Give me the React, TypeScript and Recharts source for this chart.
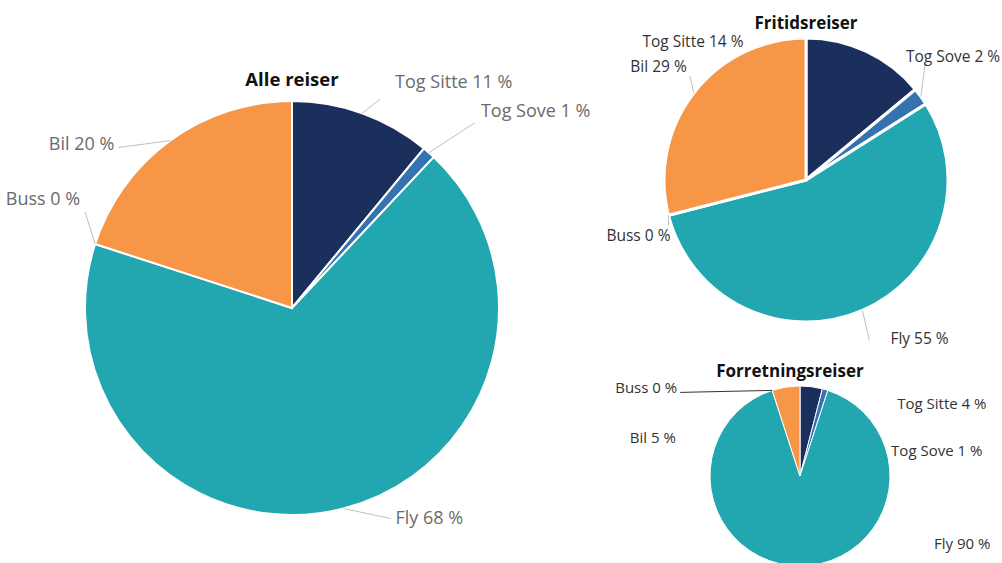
import React from 'react'
import { PieChart, Pie, Cell } from 'recharts'

const CATEGORIES = ['Tog Sitte', 'Tog Sove', 'Fly', 'Buss', 'Bil']
const ALLE_REISER = [11, 1, 68, 0, 20]
const FRITIDSREISER = [14, 2, 55, 0, 29]
const FORRETNINGSREISER = [4, 1, 90, 0, 5]
const COLORS = ['#1b2f5c', '#3473b0', '#22a6b0', '#22a6b0', '#f79646']

const RADIAN = Math.PI / 180
const FONT = '"Open Sans", "Noto Sans", sans-serif'

type Place = { dx: number; dy: number; anchor: 'start' | 'end'; leader?: [number, number] }

// label offsets measured from the slice's outer edge at its mid angle
const alleLabels: Place[] = [
  { dx: 33, dy: -32, anchor: 'start', leader: [18, -14] },
  { dx: 52, dy: -43, anchor: 'start', leader: [46, -30] },
  { dx: 52, dy: 9, anchor: 'start', leader: [47, 10] },
  { dx: -15, dy: -46, anchor: 'end', leader: [-10, -32] },
  { dx: -56, dy: 2, anchor: 'end', leader: [-52, 7] },
]
const fritidLabels: Place[] = [
  { dx: -123, dy: -11, anchor: 'end' },
  { dx: -15, dy: -41, anchor: 'start', leader: [4, -31] },
  { dx: 28, dy: 28, anchor: 'start', leader: [7, 30] },
  { dx: 2, dy: 20, anchor: 'end', leader: [0, 10] },
  { dx: -7, dy: -27, anchor: 'end', leader: [-4, -17] },
]
const forretningLabels: Place[] = [
  { dx: 86, dy: 16, anchor: 'start' },
  { dx: 66, dy: 60, anchor: 'start' },
  { dx: 134, dy: -23, anchor: 'start' },
  { dx: -95, dy: -3, anchor: 'end', leader: [-92, 2] },
  { dx: -110, dy: 50, anchor: 'end' },
]

const toData = (values: number[]) =>
  CATEGORIES.map((name, i) => ({ name, value: values[i] }))

function makeLabel(places: Place[], color: string, lineColor: string, size: number) {
  return (props: any) => {
    const { cx, cy, midAngle, outerRadius, index, name, value } = props
    const p = places[index]
    const ex = cx + outerRadius * Math.cos(-midAngle * RADIAN)
    const ey = cy + outerRadius * Math.sin(-midAngle * RADIAN)
    return (
      <g key={`lbl-${index}`}>
        {p.leader && (
          <line
            x1={ex}
            y1={ey}
            x2={ex + p.leader[0]}
            y2={ey + p.leader[1]}
            stroke={lineColor}
            strokeWidth={1}
          />
        )}
        <text
          x={ex + p.dx}
          y={ey + p.dy}
          textAnchor={p.anchor}
          dominantBaseline="central"
          fill={color}
          fontSize={size}
          fontFamily={FONT}
        >
          {`${name} ${Math.round(value)} %`}
        </text>
      </g>
    )
  }
}

const titleStyle = (left: number, top: number, size: number): React.CSSProperties => ({
  position: 'absolute',
  left,
  top,
  transform: 'translate(-50%, -50%)',
  fontFamily: FONT,
  fontWeight: 700,
  fontSize: size,
  color: '#111',
  whiteSpace: 'nowrap',
})

export default function App() {
  return (
    <div style={{ position: 'absolute', left: 0, top: 0, width: 1002, height: 563, background: '#fff', overflow: 'hidden' }}>
      <PieChart width={1002} height={563} margin={{ top: 0, right: 0, bottom: 0, left: 0 }}>
        <Pie
          data={toData(ALLE_REISER)}
          dataKey="value"
          nameKey="name"
          cx={292}
          cy={308}
          outerRadius={207}
          startAngle={90}
          endAngle={-270}
          stroke="#fff"
          strokeWidth={2}
          labelLine={false}
          label={makeLabel(alleLabels, '#6b6b6b', '#bfbfbf', 18)}
          isAnimationActive={false}
        >
          {ALLE_REISER.map((_, i) => (
            <Cell key={i} fill={COLORS[i]} />
          ))}
        </Pie>
        <Pie
          data={toData(FRITIDSREISER)}
          dataKey="value"
          nameKey="name"
          cx={806}
          cy={180}
          outerRadius={142}
          startAngle={90}
          endAngle={-270}
          stroke="#fff"
          strokeWidth={3}
          labelLine={false}
          label={makeLabel(fritidLabels, '#333', '#bfbfbf', 15.5)}
          isAnimationActive={false}
        >
          {FRITIDSREISER.map((_, i) => (
            <Cell key={i} fill={COLORS[i]} />
          ))}
        </Pie>
        <Pie
          data={toData(FORRETNINGSREISER)}
          dataKey="value"
          nameKey="name"
          cx={800}
          cy={476}
          outerRadius={90}
          startAngle={90}
          endAngle={-270}
          stroke="#fff"
          strokeWidth={1}
          labelLine={false}
          label={makeLabel(forretningLabels, '#333', '#333', 15)}
          isAnimationActive={false}
        >
          {FORRETNINGSREISER.map((_, i) => (
            <Cell key={i} fill={COLORS[i]} />
          ))}
        </Pie>
      </PieChart>
      <div style={titleStyle(292, 78, 18.5)}>Alle reiser</div>
      <div style={titleStyle(806, 22, 17)}>Fritidsreiser</div>
      <div style={titleStyle(790, 370, 17)}>Forretningsreiser</div>
    </div>
  )
}
